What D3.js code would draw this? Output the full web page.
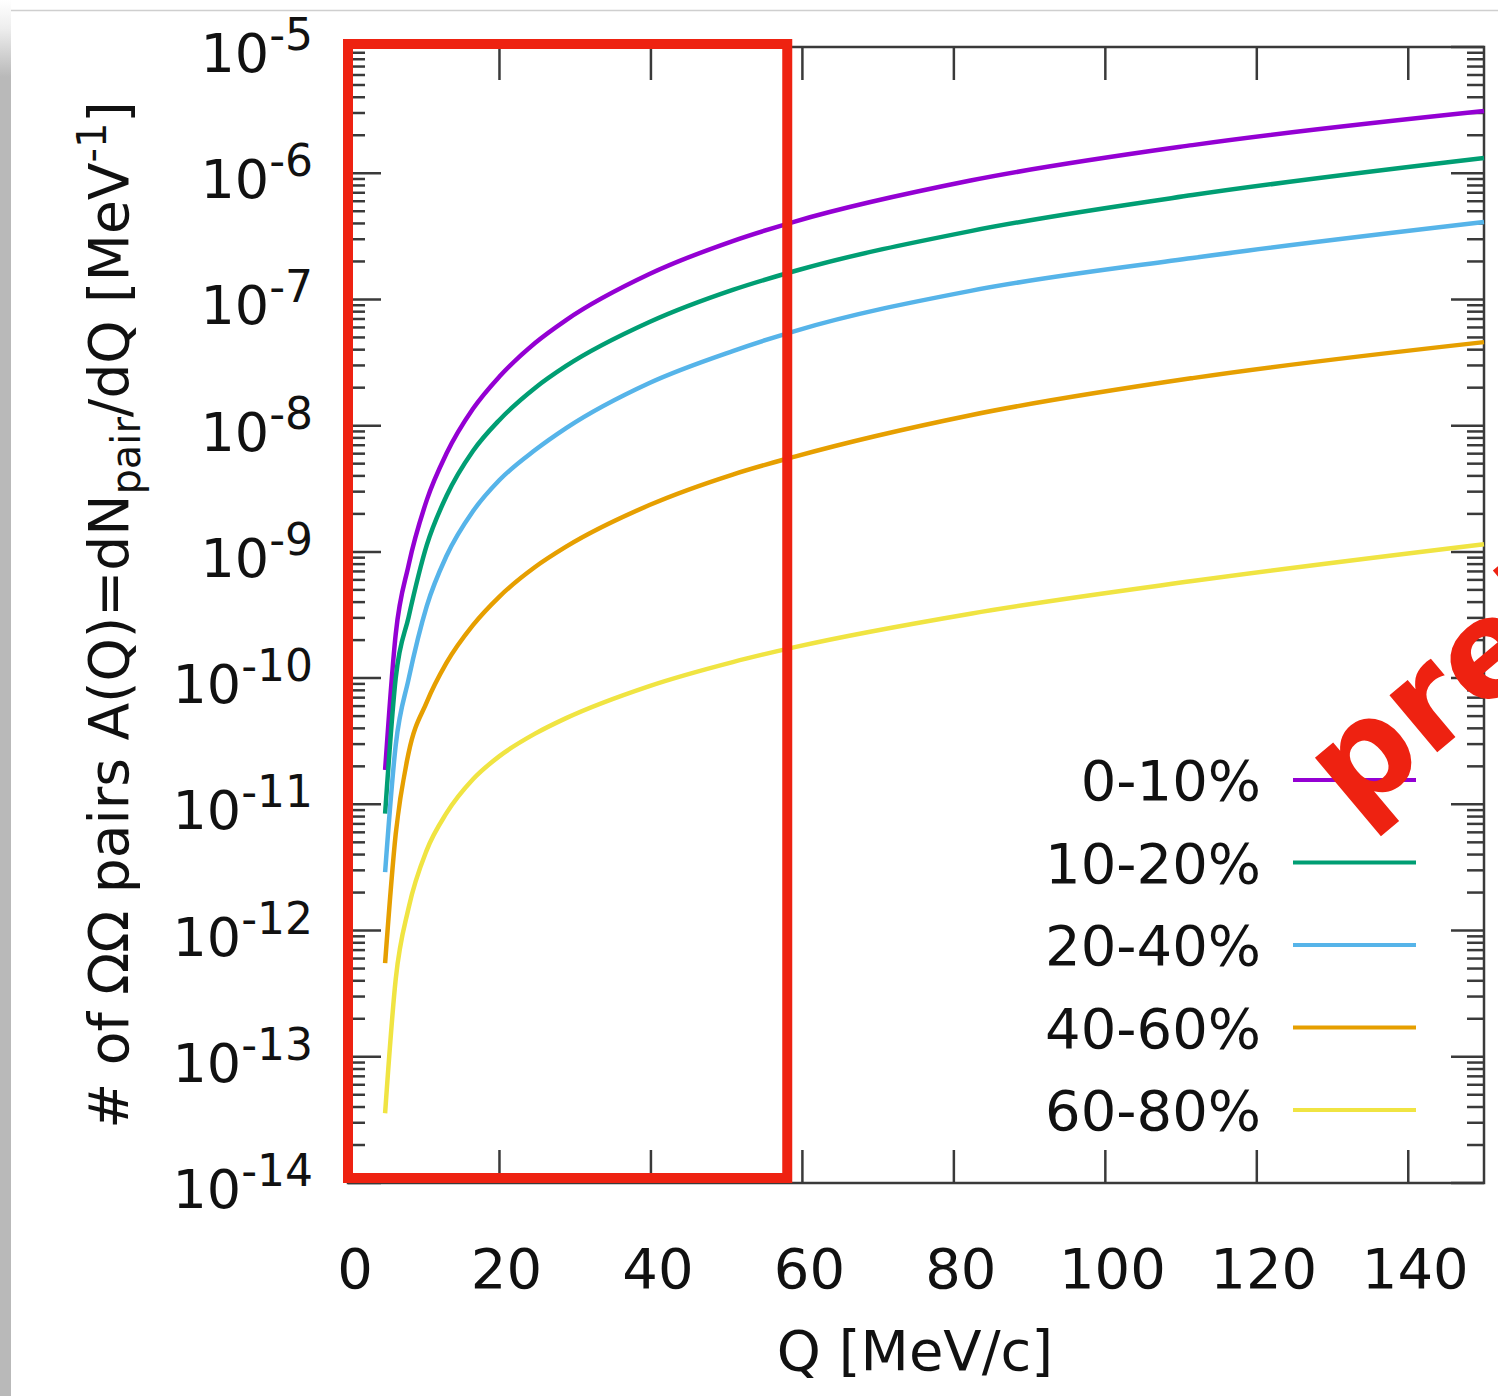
<!DOCTYPE html>
<html>
<head>
<meta charset="utf-8">
<script src="https://cdn.jsdelivr.net/npm/d3@7"></script>
<style>
  body { margin: 0; background: #fff; }
  text { font-family: "DejaVu Sans", Verdana, sans-serif; fill: #111; }
</style>
</head>
<body>
<div id="my_dataviz"></div>
<script>
// Q grid [MeV/c] shared by all centrality classes
var qValues = [4.9, 6.3, 8, 10.4, 13, 16.5, 20, 24.7, 28.8, 39.8, 50.8, 59, 82.2, 111.5, 150];

var centralities = ["0-10%", "10-20%", "20-40%", "40-60%", "60-80%"];
var lineColors = ["#9400d3", "#009e73", "#56b4e9", "#e69f00", "#f0e442"];

// A(Q) = dN_pair/dQ [MeV^-1] for each class
var pairs0to10 = [1.87e-11, 2.23e-10, 7.85e-10, 2.57e-9, 6.01e-9, 1.36e-8, 2.45e-8, 4.52e-8, 6.87e-8, 1.59e-7, 2.90e-7, 4.14e-7, 8.75e-7, 1.67e-6, 3.11e-6];
var pairs10to20 = [8.43e-12, 1.00e-10, 3.04e-10, 1.13e-9, 2.77e-9, 6.30e-9, 1.11e-8, 1.99e-8, 2.97e-8, 6.62e-8, 1.19e-7, 1.68e-7, 3.48e-7, 6.71e-7, 1.32e-6];
var pairs20to40 = [2.90e-12, 2.94e-11, 9.82e-11, 3.72e-10, 9.27e-10, 2.10e-9, 3.71e-9, 6.41e-9, 9.57e-9, 2.18e-8, 3.90e-8, 5.62e-8, 1.17e-7, 2.13e-7, 4.10e-7];
var pairs40to60 = [5.52e-13, 5.81e-12, 2.55e-11, 6.46e-11, 1.32e-10, 2.63e-10, 4.43e-10, 7.59e-10, 1.10e-9, 2.35e-9, 4.10e-9, 5.69e-9, 1.21e-8, 2.38e-8, 4.59e-8];
var pairs60to80 = [3.57e-14, 4.12e-13, 1.51e-12, 4.34e-12, 8.51e-12, 1.58e-11, 2.41e-11, 3.63e-11, 4.82e-11, 8.65e-11, 1.34e-10, 1.76e-10, 3.24e-10, 5.87e-10, 1.15e-9];

var xTicks = [0, 20, 40, 60, 80, 100, 120, 140];
var yExponents = [-14, -13, -12, -11, -10, -9, -8, -7, -6, -5];

var allSeries = [pairs0to10, pairs10to20, pairs20to40, pairs40to60, pairs60to80];

var width = 1498, height = 1396;
var plot = { left: 348, right: 1484, top: 47, bottom: 1183 };

var svg = d3.select("#my_dataviz")
    .append("svg")
    .attr("width", width)
    .attr("height", height);

// page edge: grey strip on the left and a thin line at the top
var grad = svg.append("defs").append("linearGradient")
    .attr("id", "edgeGrad")
    .attr("x1", 0).attr("y1", 0).attr("x2", 0).attr("y2", 1);
grad.append("stop").attr("offset", 0).attr("stop-color", "#ffffff");
grad.append("stop").attr("offset", 0.02).attr("stop-color", "#eeeeee");
grad.append("stop").attr("offset", 0.055).attr("stop-color", "#b9b9b9");
grad.append("stop").attr("offset", 1).attr("stop-color", "#b9b9b9");

svg.append("rect")
    .attr("x", 0).attr("y", 0)
    .attr("width", 11).attr("height", height)
    .attr("fill", "url(#edgeGrad)");
svg.append("line")
    .attr("x1", 11).attr("x2", width)
    .attr("y1", 10.5).attr("y2", 10.5)
    .attr("stroke", "#cfcfcf")
    .attr("stroke-width", 1.5);

// scales
var x = d3.scaleLinear()
    .domain([0, 150])
    .range([plot.left, plot.right]);

var y = d3.scaleLog()
    .domain([1e-14, 1e-5])
    .range([plot.bottom, plot.top]);

var axisColor = "#3a3a3a";

// x ticks, bottom and top
xTicks.forEach(function (t) {
    svg.append("line")
        .attr("x1", x(t)).attr("x2", x(t))
        .attr("y1", plot.bottom).attr("y2", plot.bottom - 33)
        .attr("stroke", axisColor).attr("stroke-width", 2.5);
    svg.append("line")
        .attr("x1", x(t)).attr("x2", x(t))
        .attr("y1", plot.top).attr("y2", plot.top + 33)
        .attr("stroke", axisColor).attr("stroke-width", 2.5);
    svg.append("text")
        .attr("x", x(t) + 7)
        .attr("y", 1288)
        .attr("text-anchor", "middle")
        .attr("font-size", 56)
        .text(t);
});

// y ticks (major + minor), left and right
yExponents.forEach(function (e) {
    var mults = e === -5 ? [1] : [1, 2, 3, 4, 5, 6, 7, 8, 9];
    mults.forEach(function (m) {
        var v = m * Math.pow(10, e);
        var len = m === 1 ? 33 : 17;
        svg.append("line")
            .attr("x1", plot.left).attr("x2", plot.left + len)
            .attr("y1", y(v)).attr("y2", y(v))
            .attr("stroke", axisColor).attr("stroke-width", 2.5);
        svg.append("line")
            .attr("x1", plot.right).attr("x2", plot.right - len)
            .attr("y1", y(v)).attr("y2", y(v))
            .attr("stroke", axisColor).attr("stroke-width", 2.5);
    });

    var label = svg.append("text")
        .attr("x", 313)
        .attr("y", y(Math.pow(10, e)) + 25)
        .attr("text-anchor", "end")
        .attr("font-size", 54);
    label.append("tspan").text("10");
    label.append("tspan")
        .attr("dy", -22)
        .attr("font-size", 44)
        .text(e);
});

// frame
svg.append("rect")
    .attr("x", plot.left).attr("y", plot.top)
    .attr("width", plot.right - plot.left)
    .attr("height", plot.bottom - plot.top)
    .attr("fill", "none")
    .attr("stroke", axisColor)
    .attr("stroke-width", 2.5);

// curves
var line = d3.line()
    .curve(d3.curveMonotoneX)
    .x(function (d) { return x(d[0]); })
    .y(function (d) { return y(d[1]); });

allSeries.forEach(function (vals, i) {
    svg.append("path")
        .datum(qValues.map(function (q, j) { return [q, vals[j]]; }))
        .attr("fill", "none")
        .attr("stroke", lineColors[i])
        .attr("stroke-width", 4.5)
        .attr("d", line);
});

// legend
centralities.forEach(function (c, i) {
    var ly = 780 + i * 82.5;
    svg.append("line")
        .attr("x1", 1293).attr("x2", 1416)
        .attr("y1", ly).attr("y2", ly)
        .attr("stroke", lineColors[i])
        .attr("stroke-width", 4);
    svg.append("text")
        .attr("x", 1261)
        .attr("y", ly + 20)
        .attr("text-anchor", "end")
        .attr("font-size", 56)
        .text(c);
});

// axis titles
svg.append("text")
    .attr("x", 915)
    .attr("y", 1370)
    .attr("text-anchor", "middle")
    .attr("font-size", 56)
    .text("Q [MeV/c]");

var yTitle = svg.append("text")
    .attr("transform", "translate(128,615) rotate(-90)")
    .attr("text-anchor", "middle")
    .attr("font-size", 55);
yTitle.append("tspan").text("# of ΩΩ pairs A(Q)=dN");
yTitle.append("tspan").attr("dy", 12).attr("font-size", 40).text("pair");
yTitle.append("tspan").attr("dy", -12).text("/dQ [MeV");
yTitle.append("tspan").attr("dy", -22).attr("font-size", 40).text("-1");
yTitle.append("tspan").attr("dy", 22).text("]");

// highlighted low-Q region
svg.append("rect")
    .attr("x", x(0)).attr("y", 44)
    .attr("width", x(58) - x(0))
    .attr("height", 1134)
    .attr("fill", "none")
    .attr("stroke", "#ee2211")
    .attr("stroke-width", 10);

// stamp
svg.append("text")
    .attr("transform", "translate(1354,822) rotate(-40)")
    .attr("font-family", "Liberation Sans, Arial, sans-serif")
    .attr("font-weight", "bold")
    .attr("font-size", 136)
    .style("fill", "#ee2211")
    .text("preliminary");
</script>
</body>
</html>
